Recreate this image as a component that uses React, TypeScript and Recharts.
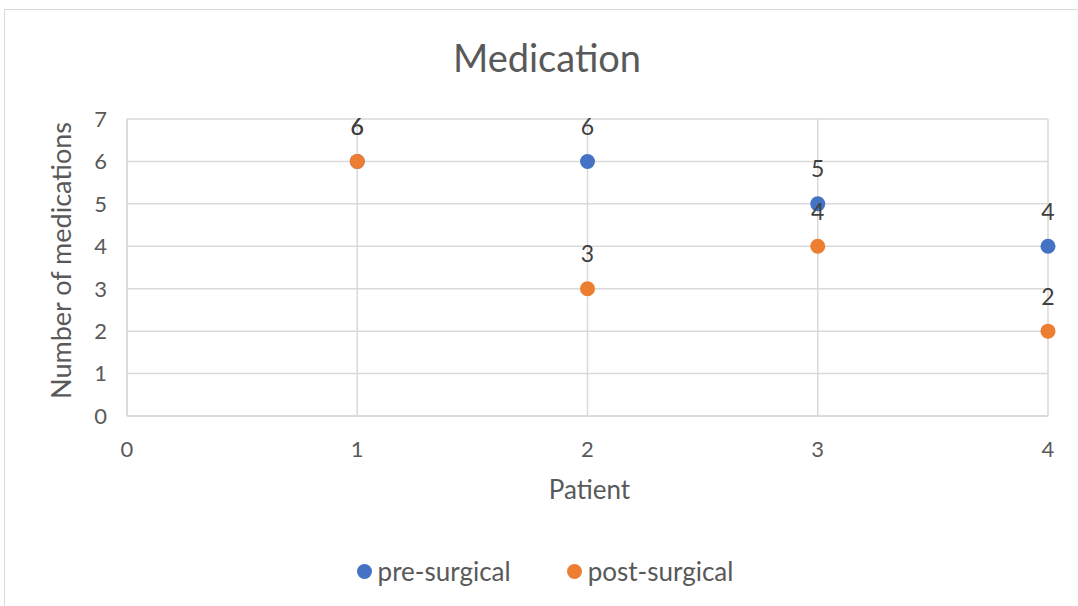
import React from "react";
import {
  CartesianGrid,
  LabelList,
  Scatter,
  ScatterChart,
  XAxis,
  YAxis,
} from "recharts";

const patients = [1, 2, 3, 4];
const preSurgical = [6, 6, 5, 4];
const postSurgical = [6, 3, 4, 2];
const xTicks = [0, 1, 2, 3, 4];
const yTicks = [0, 1, 2, 3, 4, 5, 6, 7];

const preData = patients.map((p, i) => ({ x: p, y: preSurgical[i] }));
const postData = patients.map((p, i) => ({ x: p, y: postSurgical[i] }));

const FONT = "Lato, 'Open Sans', sans-serif";
const BLUE = "#4472C4";
const ORANGE = "#ED7D31";

const dot = (color: string) => (props: any) =>
  <circle cx={props.cx} cy={props.cy} r={7.5} fill={color} />;

export default function App() {
  return (
    <div
      style={{
        position: "absolute",
        left: 0,
        top: 0,
        width: 1078,
        height: 606,
        background: "#fff",
        fontFamily: FONT,
        overflow: "hidden",
      }}
    >
      <div
        style={{
          position: "absolute",
          left: 4,
          top: 9,
          width: 1100,
          height: 620,
          border: "1.5px solid #d9d9d9",
        }}
      />
      <div
        style={{
          position: "absolute",
          top: 34,
          left: 8,
          width: "100%",
          textAlign: "center",
          fontSize: 38,
          color: "#595959",
        }}
      >
        Medication
      </div>
      <div style={{ position: "absolute", left: 0, top: 0 }}>
        <ScatterChart
          width={1078}
          height={606}
          margin={{ top: 119, right: 30, left: 0, bottom: 0 }}
        >
          <CartesianGrid stroke="#d9d9d9" strokeWidth={1.5} />
          <XAxis
            type="number"
            dataKey="x"
            domain={[0, 4]}
            ticks={xTicks}
            height={190}
            tickSize={0}
            tickMargin={25}
            axisLine={{ stroke: "#d9d9d9", strokeWidth: 1.5 }}
            tick={{ fill: "#595959", fontSize: 22, fontFamily: FONT }}
            label={{
              value: "Patient",
              position: "insideTop",
              dy: 60,
              dx: 2,
              fill: "#595959",
              fontSize: 26,
              fontFamily: FONT,
            }}
          />
          <YAxis
            type="number"
            dataKey="y"
            domain={[0, 7]}
            ticks={yTicks}
            width={127}
            tickSize={0}
            tickMargin={20}
            axisLine={{ stroke: "#d9d9d9", strokeWidth: 1.5 }}
            tick={{ fill: "#595959", fontSize: 22, fontFamily: FONT }}
            label={{
              value: "Number of medications",
              angle: -90,
              position: "insideLeft",
              dx: 56,
              dy: -7,
              style: { textAnchor: "middle" },
              fill: "#595959",
              fontSize: 27,
              fontFamily: FONT,
            }}
          />
          <Scatter
            name="pre-surgical"
            data={preData}
            fill={BLUE}
            shape={dot(BLUE)}
            isAnimationActive={false}
          >
            <LabelList
              dataKey="y"
              position="top"
              offset={22}
              fill="#404040"
              fontSize={23}
              fontFamily={FONT}
            />
          </Scatter>
          <Scatter
            name="post-surgical"
            data={postData}
            fill={ORANGE}
            shape={dot(ORANGE)}
            isAnimationActive={false}
          >
            <LabelList
              dataKey="y"
              position="top"
              offset={22}
              fill="#404040"
              fontSize={23}
              fontFamily={FONT}
            />
          </Scatter>
        </ScatterChart>
      </div>
      <div
        style={{
          position: "absolute",
          top: 555,
          left: 6,
          width: "100%",
          display: "flex",
          justifyContent: "center",
          gap: 56,
          fontSize: 26,
          color: "#595959",
        }}
      >
        {[
          { name: "pre-surgical", color: BLUE },
          { name: "post-surgical", color: ORANGE },
        ].map((s) => (
          <div key={s.name} style={{ display: "flex", alignItems: "center", gap: 6 }}>
            <span
              style={{
                width: 15,
                height: 15,
                borderRadius: "50%",
                background: s.color,
                display: "inline-block",
              }}
            />
            {s.name}
          </div>
        ))}
      </div>
    </div>
  );
}
